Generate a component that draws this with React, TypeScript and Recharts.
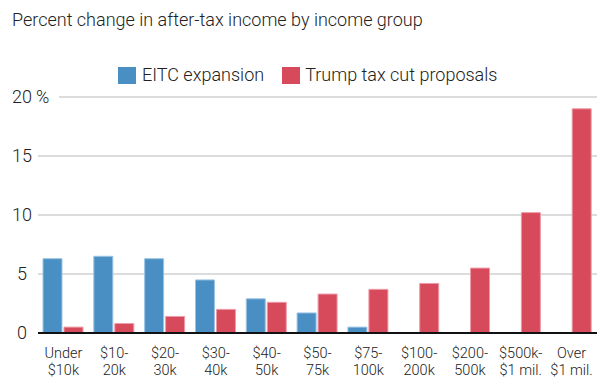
import React from "react";
import { BarChart, Bar, XAxis, YAxis, CartesianGrid } from "recharts";

const categories = [
  "Under|$10k",
  "$10-|20k",
  "$20-|30k",
  "$30-|40k",
  "$40-|50k",
  "$50-|75k",
  "$75-|100k",
  "$100-|200k",
  "$200-|500k",
  "$500k-|$1 mil.",
  "Over|$1 mil.",
];
const eitcValues = [6.3, 6.5, 6.3, 4.5, 2.9, 1.7, 0.5, null, null, null, null];
const trumpValues = [0.5, 0.8, 1.4, 2.0, 2.6, 3.3, 3.7, 4.2, 5.5, 10.2, 19.0];
const yTicks = [0, 5, 10, 15, 20];
const seriesNames = ["EITC expansion", "Trump tax cut proposals"];

const BLUE = "#4a8fc3";
const RED = "#d64a5c";
const FONT = "Roboto, sans-serif";

const data = categories.map((c, i) => ({
  cat: c,
  eitc: eitcValues[i],
  trump: trumpValues[i],
}));

const YTick = (props: any) => {
  const { y, payload } = props;
  const v = payload.value;
  return (
    <g>
      <text x={22} y={y} dy={6} textAnchor="middle" fontSize={18} fill="#222" fontFamily={FONT} fontWeight={300}>
        {v}
      </text>
      {v === 20 ? (
        <text x={36} y={y} dy={6} textAnchor="start" fontSize={18} fill="#222" fontFamily={FONT} fontWeight={300}>
          %
        </text>
      ) : null}
    </g>
  );
};

const XTick = (props: any) => {
  const { x, payload } = props;
  const [l1, l2] = String(payload.value).split("|");
  return (
    <g>
      <text x={x} y={358} textAnchor="middle" fontSize={14.5} fill="#222" fontFamily={FONT} fontWeight={300}>
        {l1}
      </text>
      <text x={x} y={375} textAnchor="middle" fontSize={14.5} fill="#222" fontFamily={FONT} fontWeight={300}>
        {l2}
      </text>
    </g>
  );
};

const gridLine = (p: any) => {
  const x1 = p.y1 < 110 ? 59 : p.x1;
  return (
    <line
      key={`g-${p.index}-${p.y1}`}
      x1={x1}
      x2={p.x2}
      y1={p.y1}
      y2={p.y2}
      stroke="#d0d0d0"
      strokeWidth={1.5}
    />
  );
};

export default function App() {
  return (
    <div style={{ position: "absolute", left: 0, top: 0, width: 616, height: 390, background: "#fff" }}>
      <div
        style={{
          position: "absolute",
          left: 12,
          top: 9,
          fontFamily: FONT,
          fontWeight: 300,
          fontSize: 18,
          color: "#222",
          whiteSpace: "nowrap",
          lineHeight: "22px",
        }}
      >
        Percent change in after-tax income by income group
      </div>
      <div
        style={{
          position: "absolute",
          left: 118,
          top: 64,
          display: "flex",
          alignItems: "center",
          fontFamily: FONT,
          fontWeight: 300,
          fontSize: 18,
          color: "#222",
          whiteSpace: "nowrap",
          lineHeight: "22px",
          zIndex: 2,
        }}
      >
        <span style={{ width: 18, height: 17, background: BLUE, display: "inline-block", marginRight: 6 }} />
        <span style={{ marginRight: 18 }}>{seriesNames[0]}</span>
        <span style={{ width: 18, height: 17, background: RED, display: "inline-block", marginRight: 5 }} />
        <span>{seriesNames[1]}</span>
      </div>
      <BarChart
        width={616}
        height={390}
        data={data}
        margin={{ top: 97, right: 19, left: 0, bottom: 0 }}
        barSize={19}
        barGap={2}
      >
        <CartesianGrid vertical={false} horizontal={gridLine as any} />
        <YAxis
          width={38}
          domain={[0, 20]}
          ticks={yTicks}
          axisLine={false}
          tickLine={false}
          tick={<YTick />}
          interval={0}
        />
        <XAxis
          dataKey="cat"
          height={57}
          axisLine={{ stroke: "#111", strokeWidth: 2 }}
          tickLine={false}
          tick={<XTick />}
          interval={0}
        />
        <Bar dataKey="eitc" name={seriesNames[0]} fill={BLUE} stroke="#9cc4e4" strokeWidth={1} isAnimationActive={false} />
        <Bar dataKey="trump" name={seriesNames[1]} fill={RED} stroke="#ee9aa6" strokeWidth={1} isAnimationActive={false} />
      </BarChart>
    </div>
  );
}
